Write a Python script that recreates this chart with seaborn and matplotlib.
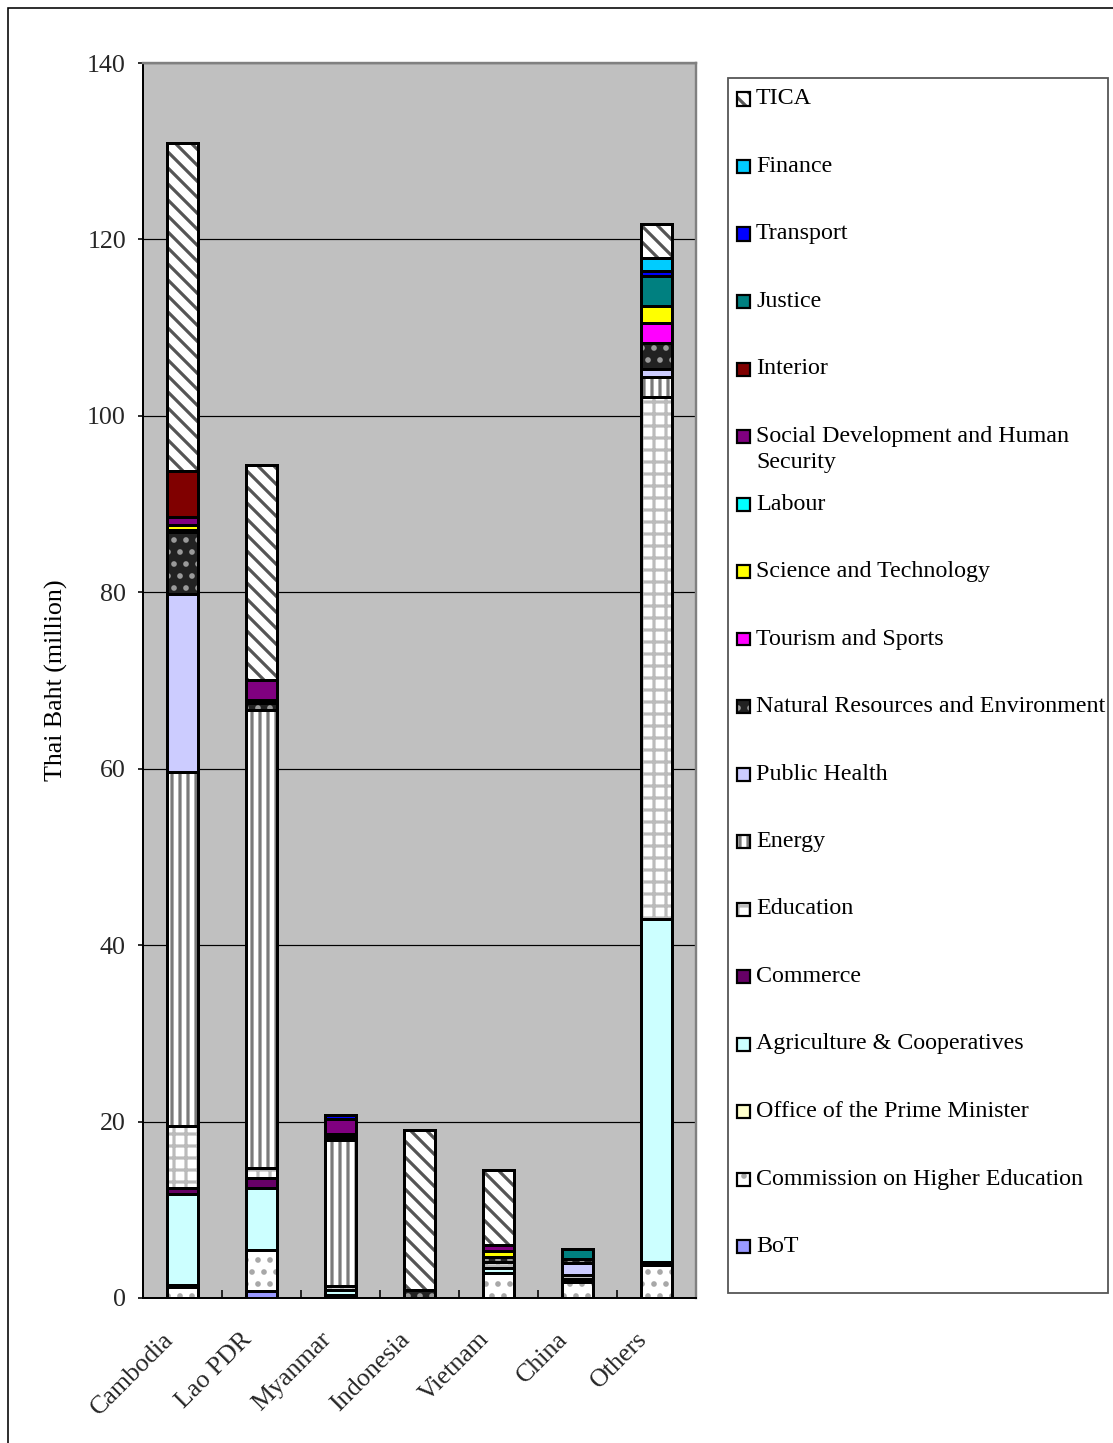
import numpy as np
import pandas as pd
import matplotlib
matplotlib.use("Agg")
import matplotlib.pyplot as plt
from matplotlib.patches import Rectangle
from matplotlib.transforms import ScaledTranslation
import seaborn as sns

# ---------------------------------------------------------------------------
# Data: Thai Baht (million) by recipient and by Thai agency
# ---------------------------------------------------------------------------
countries = ["Cambodia", "Lao PDR", "Myanmar", "Indonesia", "Vietnam", "China", "Others"]

bot           = [0.0, 0.8, 0.0, 0.0, 0.0, 0.0, 0.0]
commission    = [1.2, 4.6, 0.3, 0.0, 2.8, 1.8, 3.7]
prime_min     = [0.3, 0.0, 0.0, 0.0, 0.0, 0.0, 0.4]
agriculture   = [10.3, 7.1, 0.6, 0.0, 0.6, 0.4, 38.9]
commerce      = [0.7, 1.1, 0.0, 0.0, 0.0, 0.0, 0.0]
education     = [7.0, 1.1, 0.5, 0.0, 0.7, 0.4, 59.1]
energy        = [40.1, 52.0, 16.5, 0.0, 0.0, 0.0, 2.3]
public_health = [20.2, 0.0, 0.0, 0.0, 0.0, 1.4, 0.9]
natural_res   = [7.0, 0.7, 0.3, 0.9, 0.6, 0.4, 3.0]
tourism       = [0.3, 0.0, 0.0, 0.0, 0.0, 0.0, 2.2]
science       = [0.5, 0.4, 0.4, 0.0, 0.6, 0.0, 2.0]
labour        = [0.0, 0.0, 0.0, 0.0, 0.0, 0.0, 0.0]
social_dev    = [0.9, 2.3, 1.7, 0.0, 0.7, 0.0, 0.0]
interior      = [5.2, 0.0, 0.0, 0.0, 0.0, 0.0, 0.0]
justice       = [0.0, 0.0, 0.0, 0.0, 0.0, 1.1, 3.4]
transport     = [0.0, 0.0, 0.5, 0.0, 0.0, 0.0, 0.5]
finance       = [0.0, 0.0, 0.0, 0.0, 0.0, 0.0, 1.5]
tica          = [37.2, 24.3, 0.0, 18.1, 8.5, 0.0, 3.9]

# stacking order, bottom -> top: (label, values, fill, hatch, hatch colour)
layers = [
    ("BoT", bot, "#9999FF", None, None),
    ("Commission on Higher Education", commission, "white", "..", "#A8A8A8"),
    ("Office of the Prime Minister", prime_min, "#FFFFCC", None, None),
    ("Agriculture & Cooperatives", agriculture, "#CCFFFF", None, None),
    ("Commerce", commerce, "#660066", None, None),
    ("Education", education, "white", "++", "#BBBBBB"),
    ("Energy", energy, "white", "|||", "#7A7A7A"),
    ("Public Health", public_health, "#CCCCFF", None, None),
    ("Natural Resources and Environment", natural_res, "#222222", "..", "#9A9A9A"),
    ("Tourism and Sports", tourism, "#FF00FF", None, None),
    ("Science and Technology", science, "#FFFF00", None, None),
    ("Labour", labour, "#00FFFF", None, None),
    ("Social Development and Human\nSecurity", social_dev, "#800080", None, None),
    ("Interior", interior, "#800000", None, None),
    ("Justice", justice, "#008080", None, None),
    ("Transport", transport, "#0000FF", None, None),
    ("Finance", finance, "#00CCFF", None, None),
    ("TICA", tica, "white", "\\\\\\", "#555555"),
]

# ---------------------------------------------------------------------------
# Style
# ---------------------------------------------------------------------------
sns.set_theme(style="white")
plt.rcParams["font.family"] = ["Liberation Serif", "DejaVu Serif"]
plt.rcParams["hatch.linewidth"] = 1.6
FS = 12
TICK_FS = 13

W, H, DPI = 1113, 1443, 144
fig = plt.figure(figsize=(W / DPI, H / DPI), dpi=DPI)
fig.patch.set_facecolor("white")


def fx(x):
    return x / W


def fy(y):
    return 1 - y / H


ax = fig.add_axes([fx(143), fy(1298), (696 - 143) / W, (1298 - 63) / H])
ax.set_facecolor("#C0C0C0")

bar_w = 0.405
bottom = np.zeros(len(countries))
for label, vals, fc, hatch, hc in layers:
    vals = np.asarray(vals, dtype=float)
    mask = vals > 0
    if mask.any():
        df = pd.DataFrame({"country": np.array(countries)[mask], "value": vals[mask]})
        common = dict(data=df, x="country", y="value", order=countries,
                      width=bar_w, errorbar=None, saturation=1,
                      bottom=bottom[mask], ax=ax)
        # solid fill
        sns.barplot(**common, color=fc, facecolor=fc, edgecolor="none",
                    linewidth=0, zorder=2)
        # pattern
        if hatch:
            sns.barplot(**common, color=fc, facecolor="none", edgecolor=hc,
                        linewidth=0, hatch=hatch, zorder=3)
        # black outline
        sns.barplot(**common, color="black", facecolor="none",
                    edgecolor="black", linewidth=1.5, zorder=4)
    bottom += vals

# ---------------------------------------------------------------------------
# Axes
# ---------------------------------------------------------------------------
ax.set_xlim(-0.5, len(countries) - 0.5)
ax.set_ylim(0, 140)
ax.set_yticks(np.arange(0, 141, 20))
ax.set_yticklabels([str(v) for v in range(0, 141, 20)], fontsize=TICK_FS)
ax.yaxis.grid(True, color="black", linewidth=0.6, zorder=0)
ax.xaxis.grid(False)
ax.set_axisbelow(True)

ax.set_xticks(range(len(countries)))
ax.set_xticklabels(countries, rotation=45, ha="right", va="top", fontsize=TICK_FS)
ax.set_xticks(np.arange(0.5, len(countries) - 1, 1.0), minor=True)
ax.tick_params(axis="x", which="major", length=0, pad=15, bottom=True)
ax.tick_params(axis="x", which="minor", direction="in", length=4,
               width=0.8, color="black", bottom=True)
ax.tick_params(axis="y", which="major", direction="out", length=2.5,
               width=0.8, color="black", pad=6, left=True)
shift = ScaledTranslation(-5 / DPI, 0, fig.dpi_scale_trans)
for t in ax.get_xticklabels():
    t.set_transform(t.get_transform() + shift)

ax.set_xlabel("")
ax.set_ylabel("Thai Baht (million)", fontsize=TICK_FS, color="black")
ax.yaxis.set_label_coords((68 - 143) / 553, 0.5)

for side in ("top", "right"):
    ax.spines[side].set_color("#808080")
    ax.spines[side].set_linewidth(1.2)
for side in ("left", "bottom"):
    ax.spines[side].set_color("black")
    ax.spines[side].set_linewidth(1.0)

# ---------------------------------------------------------------------------
# Legend panel (top entry = top of the stack)
# ---------------------------------------------------------------------------
fig.add_artist(Rectangle((fx(728), fy(1293)), fx(1108) - fx(728), fy(78) - fy(1293),
                         transform=fig.transFigure, facecolor="white",
                         edgecolor="#555555", linewidth=0.9))

for i, (label, vals, fc, hatch, hc) in enumerate(layers[::-1]):
    cy = 99 + 67.5 * i
    x0, s = 737, 13
    rect_xy = (fx(x0), fy(cy + s / 2))
    rw, rh = fx(x0 + s) - fx(x0), fy(cy - s / 2) - fy(cy + s / 2)
    fig.add_artist(Rectangle(rect_xy, rw, rh, transform=fig.transFigure,
                             facecolor=fc, edgecolor="none", linewidth=0))
    if hatch:
        fig.add_artist(Rectangle(rect_xy, rw, rh, transform=fig.transFigure,
                                 facecolor="none", edgecolor=hc, linewidth=0,
                                 hatch=hatch))
    fig.add_artist(Rectangle(rect_xy, rw, rh, transform=fig.transFigure,
                             facecolor="none", edgecolor="black", linewidth=1.1))
    lines = label.split("\n")
    for j, line in enumerate(lines):
        fig.text(fx(756), fy(cy + 26 * j), line, fontsize=FS,
                 ha="left", va="center", color="black")

# outer frame of the figure
fig.add_artist(Rectangle((fx(8), -0.5), 2, fy(8) + 0.5,
                         transform=fig.transFigure, fill=False,
                         edgecolor="black", linewidth=0.8))

fig.savefig("out.png", dpi=DPI, facecolor="white")
